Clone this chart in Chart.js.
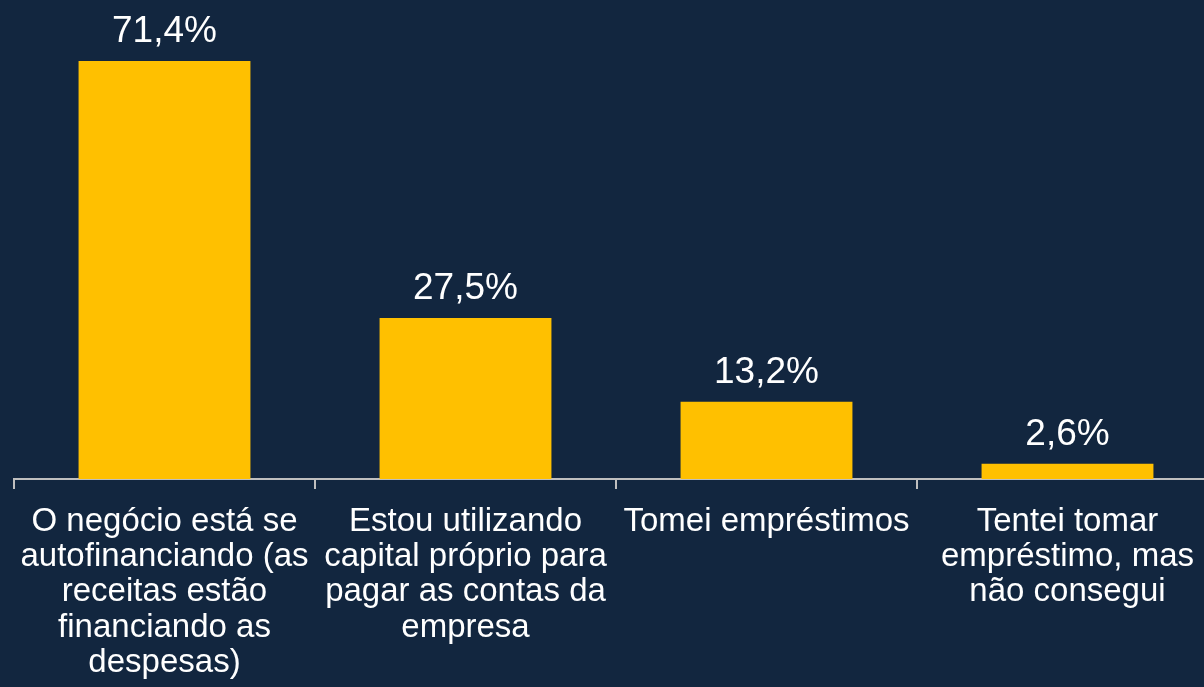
<!DOCTYPE html>
<html>
<head>
<meta charset="utf-8">
<script src="https://cdn.jsdelivr.net/npm/chart.js@4"></script>
<style>
  html, body { margin: 0; padding: 0; background: #12263f; overflow: hidden; }
  canvas { display: block; }
</style>
</head>
<body>
<canvas id="myChart" width="1220" height="687"></canvas>
<script>
const categories = [
  ['O negócio está se', 'autofinanciando (as', 'receitas estão', 'financiando as', 'despesas)'],
  ['Estou utilizando', 'capital próprio para', 'pagar as contas da', 'empresa'],
  ['Tomei empréstimos'],
  ['Tentei tomar', 'empréstimo, mas', 'não consegui']
];
const values = [71.4, 27.5, 13.2, 2.6];
const valueLabels = ['71,4%', '27,5%', '13,2%', '2,6%'];

const ctx = document.getElementById('myChart').getContext('2d');

// draws the percentage above each bar
const barLabels = {
  id: 'barLabels',
  afterDatasetsDraw(chart) {
    const c = chart.ctx;
    const meta = chart.getDatasetMeta(0);
    c.save();
    c.fillStyle = '#ffffff';
    c.font = '37px "Liberation Sans", Arial, sans-serif';
    c.textAlign = 'center';
    c.textBaseline = 'alphabetic';
    meta.data.forEach((bar, i) => {
      c.fillText(valueLabels[i], bar.x, bar.y - 19);
    });
    c.restore();
  }
};

new Chart(ctx, {
  type: 'bar',
  data: {
    labels: categories,
    datasets: [{
      data: values,
      backgroundColor: '#ffc000',
      barPercentage: 0.571,
      categoryPercentage: 1
    }]
  },
  options: {
    responsive: false,
    animation: false,
    layout: { padding: { left: 14, right: 2, top: 0, bottom: 0 } },
    plugins: {
      legend: { display: false },
      tooltip: { enabled: false }
    },
    scales: {
      x: {
        grid: {
          display: true,
          drawOnChartArea: false,
          drawTicks: true,
          tickLength: 10,
          color: '#bfbfbf',
          lineWidth: 2,
          offset: true
        },
        border: { display: true, color: '#bfbfbf', width: 2 },
        ticks: {
          color: '#ffffff',
          font: { family: '"Liberation Sans", Arial, sans-serif', size: 33, lineHeight: 1.07 },
          padding: 15,
          maxRotation: 0,
          autoSkip: false
        },
        afterFit(scale) { scale.height = 208; }
      },
      y: {
        display: false,
        min: 0,
        max: 81.8
      }
    }
  },
  plugins: [barLabels]
});
</script>
</body>
</html>
